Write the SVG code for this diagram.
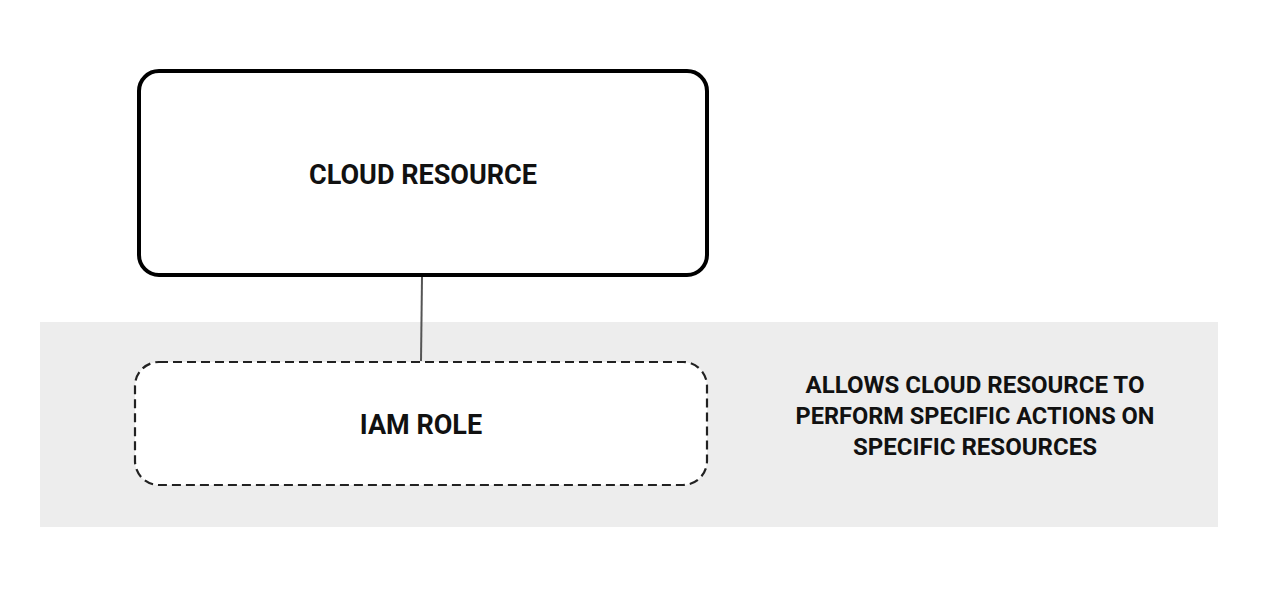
<svg xmlns="http://www.w3.org/2000/svg" width="1264" height="594" viewBox="0 0 1264 594">
<style>
.t{font-family:Roboto,"Liberation Sans",sans-serif;font-weight:700;fill:#111;text-anchor:middle}
</style>
<rect width="1264" height="594" fill="#fff"/>
<g id="band"><rect x="40" y="322" width="1178" height="205" fill="#ededed"/></g>
<g id="connectors"><line x1="422" y1="277" x2="421" y2="361" stroke="#555" stroke-width="2"/></g>
<g id="cloud-resource">
<rect x="139" y="71" width="568" height="204" rx="20" fill="#fff" stroke="#000" stroke-width="4"/>
<text class="t" x="423" y="184" font-size="27" textLength="228" lengthAdjust="spacingAndGlyphs">CLOUD RESOURCE</text>
</g>
<g id="iam-role">
<rect x="135" y="362" width="572" height="123" rx="24" fill="#fff" stroke="#222" stroke-width="2.2" stroke-dasharray="9 5"/>
<text class="t" x="421" y="434" font-size="27">IAM ROLE</text>
</g>
<g id="note">
<text class="t" x="975" y="393" font-size="24" textLength="339" lengthAdjust="spacingAndGlyphs">ALLOWS CLOUD RESOURCE TO</text>
<text class="t" x="975" y="424" font-size="24" textLength="359" lengthAdjust="spacingAndGlyphs">PERFORM SPECIFIC ACTIONS ON</text>
<text class="t" x="975" y="455" font-size="24" textLength="244" lengthAdjust="spacingAndGlyphs">SPECIFIC RESOURCES</text>
</g>
</svg>
